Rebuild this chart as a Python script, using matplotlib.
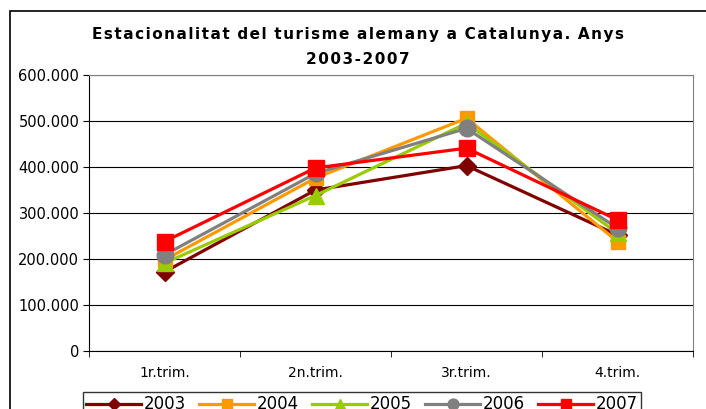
import matplotlib.pyplot as plt
from matplotlib.patches import Rectangle
from matplotlib.ticker import FuncFormatter

plt.rcParams['font.family'] = ['DejaVu Sans']

quarters = ['1r.trim.', '2n.trim.', '3r.trim.', '4.trim.']
years = ['2003', '2004', '2005', '2006', '2007']
v2003 = [172000, 350000, 403000, 252000]
v2004 = [198000, 376000, 506000, 238000]
v2005 = [191000, 338000, 495000, 256000]
v2006 = [209000, 386000, 484000, 267000]
v2007 = [238000, 398000, 441000, 285000]
series = [v2003, v2004, v2005, v2006, v2007]

colors = ['#800000', '#FF9900', '#99CC00', '#808080', '#FF0000']
markers = ['D', 's', '^', 'o', 's']
msizes = [9, 10, 12, 12, 11]

fig = plt.figure(figsize=(7.06, 4.09), dpi=100)
# chart border
fig.patches.append(Rectangle((10/706, -0.1), 1.2, 1 - 11/409 + 0.1,
                             transform=fig.transFigure, fill=False,
                             edgecolor='black', linewidth=1.2))

ax = fig.add_axes([89/706, 1 - 351/409, (693 - 89)/706, (351 - 75)/409])
x = list(range(len(quarters)))
for vals, yr, c, m, ms in zip(series, years, colors, markers, msizes):
    ax.plot(x, vals, color=c, marker=m, markersize=ms, linewidth=2.3,
            label=yr, clip_on=False)

ax.set_xlim(-0.5, 3.5)
ax.set_ylim(0, 600000)
ax.set_yticks(range(0, 600001, 100000))
ax.yaxis.set_major_formatter(FuncFormatter(lambda v, p: '{:,.0f}'.format(v).replace(',', '.')))
ax.yaxis.grid(True, color='black', linewidth=0.8)
ax.set_axisbelow(True)

ax.set_xticks(x)
ax.set_xticklabels(quarters)
ax.set_xticks([-0.5, 0.5, 1.5, 2.5, 3.5], minor=True)
ax.tick_params(axis='x', which='major', length=0, pad=11, labelsize=10)
ax.tick_params(axis='x', which='minor', length=4, direction='out', color='black')
ax.tick_params(axis='y', length=4, direction='out', labelsize=10.5, pad=3)

ax.spines['top'].set_color('#808080')
ax.spines['right'].set_color('#808080')
ax.spines['left'].set_color('black')
ax.spines['bottom'].set_color('black')

title1 = 'Estacionalitat del turisme alemany a Catalunya. Anys'
title2 = '2003-2007'
spaced = lambda s: '\u200a'.join(s).replace('\u200a \u200a', '\u2002')
fig.text(358/706, 1 - 35/409, spaced(title1), ha='center', va='center',
         fontsize=11, fontweight='bold')
fig.text(358/706, 1 - 60/409, spaced(title2), ha='center', va='center',
         fontsize=11, fontweight='bold')

fig.legend(loc='upper left', bbox_to_anchor=(83/706, 1 - 392/409), ncol=5,
           frameon=True, fancybox=False, edgecolor='black', fontsize=12,
           handlelength=3.3, handletextpad=0.15, columnspacing=0.8,
           markerscale=0.65, borderpad=0.2, borderaxespad=0)

fig.savefig('out.png', dpi=100)
